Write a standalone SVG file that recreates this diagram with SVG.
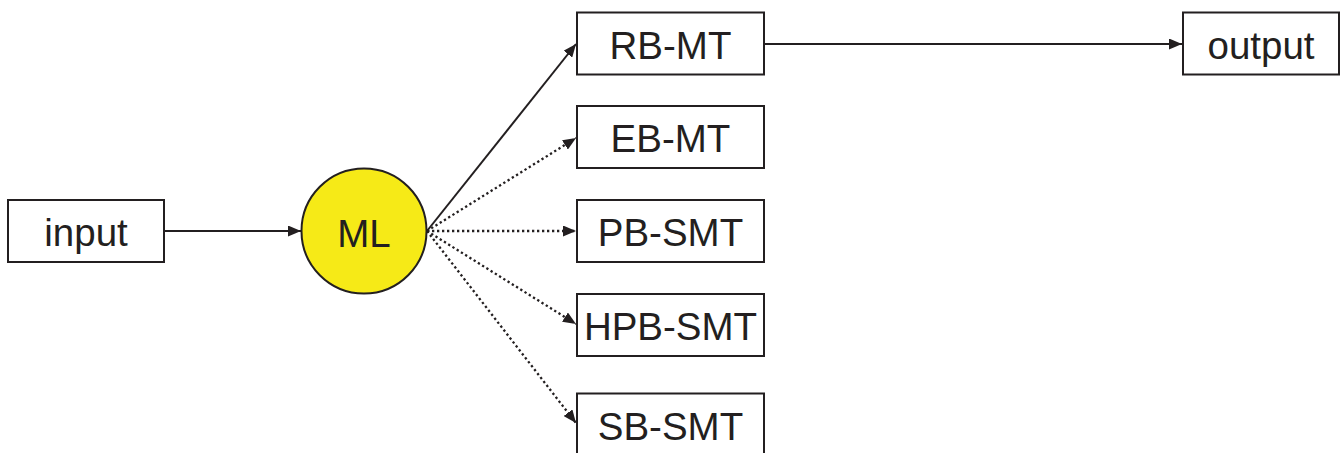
<svg xmlns="http://www.w3.org/2000/svg" width="1342" height="453" viewBox="0 0 1342 453">
<style>
.box{fill:#fff;stroke:#231f20;stroke-width:2}
.lbl{font-family:"Liberation Sans",Arial,sans-serif;font-size:38.5px;fill:#231f20;text-anchor:middle;dominant-baseline:central}
.edge{stroke:#231f20;stroke-width:2;fill:none}
.dot{stroke-width:2.3;stroke-dasharray:2.3 2.7}
</style>
<defs>
<marker id="ah" viewBox="0 0 13 11" refX="13" refY="5.5" markerWidth="13" markerHeight="11" markerUnits="userSpaceOnUse" orient="auto">
<path d="M0,0 L13,5.5 L0,11 Z" fill="#231f20"/>
</marker>
</defs>
<g id="connectors">
<line class="edge" x1="164" y1="231" x2="301" y2="231" marker-end="url(#ah)"/>
<line class="edge" x1="427" y1="231" x2="576" y2="44" marker-end="url(#ah)"/>
<line class="edge dot" x1="427" y1="231" x2="576" y2="138" marker-end="url(#ah)"/>
<line class="edge dot" x1="427" y1="231" x2="576" y2="231" marker-end="url(#ah)"/>
<line class="edge dot" x1="427" y1="231" x2="576" y2="324" marker-end="url(#ah)"/>
<line class="edge dot" x1="427" y1="231" x2="576" y2="423" marker-end="url(#ah)"/>
<line class="edge" x1="764" y1="44" x2="1182" y2="44" marker-end="url(#ah)"/>
</g>
<g id="input"><rect class="box" x="8" y="200" width="156" height="62"/><text class="lbl" x="86" y="232">input</text></g>
<g id="ML"><circle cx="364" cy="231" r="62.5" fill="#f6ea17" stroke="#231f20" stroke-width="2"/><text class="lbl" x="364" y="233">ML</text></g>
<g id="RB-MT"><rect class="box" x="577" y="12.5" width="187" height="62"/><text class="lbl" x="670.5" y="45">RB-MT</text></g>
<g id="EB-MT"><rect class="box" x="577" y="106" width="187" height="62"/><text class="lbl" x="670.5" y="138">EB-MT</text></g>
<g id="PB-SMT"><rect class="box" x="577" y="200" width="187" height="62"/><text class="lbl" x="670.5" y="232">PB-SMT</text></g>
<g id="HPB-SMT"><rect class="box" x="577" y="294" width="187" height="62"/><text class="lbl" x="670.5" y="326">HPB-SMT</text></g>
<g id="SB-SMT"><rect class="box" x="577" y="393.5" width="187" height="62"/><text class="lbl" x="670.5" y="426">SB-SMT</text></g>
<g id="output"><rect class="box" x="1183" y="12.5" width="156" height="62"/><text class="lbl" x="1261" y="45">output</text></g>
</svg>
